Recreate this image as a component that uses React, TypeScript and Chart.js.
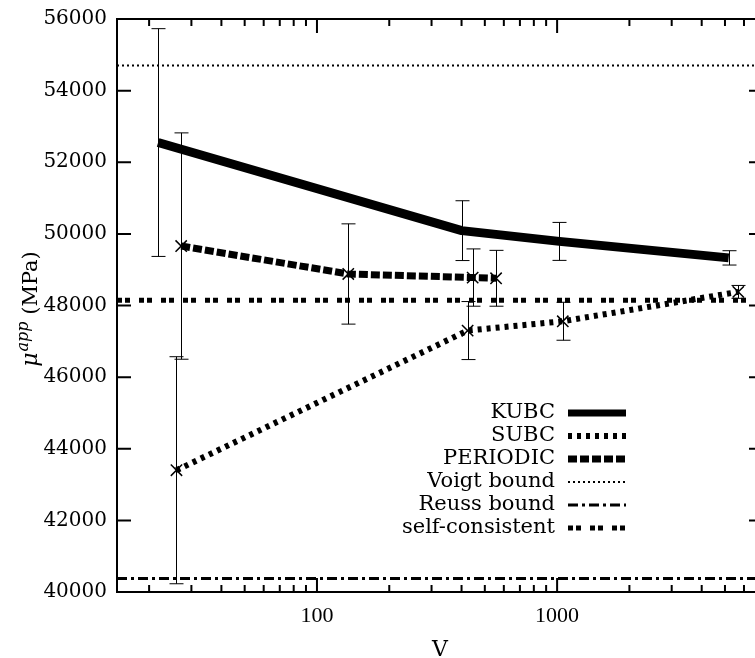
import { useEffect, useRef } from 'react';
import { Chart, registerables } from 'chart.js';
Chart.register(...registerables);

// ---- data ----
const kubcV = [21.8, 401, 1022, 5180];
const kubcMu = [52550, 50090, 49790, 49330];
const kubcErr = [3180, 835, 530, 200];

const subcV = [26.0, 424, 1056, 5680];
const subcMu = [43400, 47300, 47560, 48380];
const subcErr = [3170, 810, 530, 180];

const periodicV = [27.2, 135, 445, 557];
const periodicMu = [49660, 48880, 48780, 48760];
const periodicErr = [3160, 1400, 800, 780];

const voigtBound = 54700;
const reussBound = 40380;
const selfConsistent = 48150;

const xMin = 14.7;
const xMax = 7200;
const yMin = 40000;
const yMax = 56000;
const yStep = 2000;
const xTickLabels = [100, 1000];
const legendLabels = ['KUBC', 'SUBC', 'PERIODIC', 'Voigt bound', 'Reuss bound', 'self-consistent'];

const SERIF = '"Liberation Serif", "DejaVu Serif", serif';
const DSERIF = '"DejaVu Serif", serif';

const lineStyles = [
  { width: 9, dash: [] as number[] },
  { width: 6, dash: [4, 5] },
  { width: 7, dash: [9, 3] },
  { width: 2, dash: [2, 3] },
  { width: 3, dash: [10, 4, 3, 4] },
  { width: 5, dash: [5, 3, 5, 9] },
];

const pts = (xs: number[], ys: number[]) => xs.map((x, i) => ({ x, y: ys[i] }));
const hline = (y: number) => [{ x: xMin, y }, { x: xMax, y }];

const errSeries = [
  { v: kubcV, mu: kubcMu, err: kubcErr },
  { v: subcV, mu: subcMu, err: subcErr },
  { v: periodicV, mu: periodicMu, err: periodicErr },
];

const overlay = {
  id: 'overlay',
  afterDatasetsDraw(chart: any) {
    const ctx = chart.ctx;
    const a = chart.chartArea;
    const xs = chart.scales.x;
    const ys = chart.scales.y;
    ctx.save();
    ctx.strokeStyle = '#000';
    ctx.fillStyle = '#000';
    ctx.setLineDash([]);
    // error bars
    ctx.lineWidth = 1;
    errSeries.forEach((s) => {
      s.v.forEach((v, i) => {
        const px = Math.round(xs.getPixelForValue(v)) + 0.5;
        const t = ys.getPixelForValue(s.mu[i] + s.err[i]);
        const b = ys.getPixelForValue(s.mu[i] - s.err[i]);
        ctx.beginPath();
        ctx.moveTo(px, t);
        ctx.lineTo(px, b);
        ctx.moveTo(px - 7, t);
        ctx.lineTo(px + 7, t);
        ctx.moveTo(px - 7, b);
        ctx.lineTo(px + 7, b);
        ctx.stroke();
      });
    });
    // frame
    ctx.lineWidth = 2;
    ctx.strokeRect(a.left, a.top, a.right - a.left, a.bottom - a.top);
    // y ticks
    for (let v = yMin; v <= yMax; v += yStep) {
      const py = ys.getPixelForValue(v);
      ctx.beginPath();
      ctx.moveTo(a.left, py);
      ctx.lineTo(a.left + 14, py);
      ctx.moveTo(a.right, py);
      ctx.lineTo(a.right - 14, py);
      ctx.stroke();
    }
    // x ticks
    for (let d = 10; d <= 10000; d *= 10) {
      for (let k = 1; k <= 9; k++) {
        const v = d * k;
        if (v < xMin || v > xMax) continue;
        const px = xs.getPixelForValue(v);
        const len = k === 1 ? 14 : 7;
        ctx.beginPath();
        ctx.moveTo(px, a.bottom);
        ctx.lineTo(px, a.bottom - len);
        ctx.moveTo(px, a.top);
        ctx.lineTo(px, a.top + len);
        ctx.stroke();
      }
    }
    // legend
    ctx.font = `21px ${DSERIF}`;
    ctx.textAlign = 'right';
    ctx.textBaseline = 'middle';
    legendLabels.forEach((lab, i) => {
      const y = 413 + i * 23;
      ctx.fillText(lab, 555, y);
      const st = lineStyles[i];
      ctx.lineWidth = st.width === 9 ? 7 : st.width;
      ctx.setLineDash(st.dash);
      ctx.lineCap = 'butt';
      ctx.beginPath();
      ctx.moveTo(568, y);
      ctx.lineTo(626, y);
      ctx.stroke();
    });
    ctx.setLineDash([]);
    // x title
    ctx.font = `22px ${DSERIF}`;
    ctx.textAlign = 'center';
    ctx.textBaseline = 'alphabetic';
    ctx.fillText('V', (a.left + a.right) / 2, 656);
    // y title
    ctx.translate(37, (a.top + a.bottom) / 2 + 4);
    ctx.rotate(-Math.PI / 2);
    const f1 = `italic 22px ${DSERIF}`;
    const f2 = `italic 16px ${DSERIF}`;
    const f3 = `21px ${DSERIF}`;
    ctx.font = f1; const w1 = ctx.measureText('μ').width;
    ctx.font = f2; const w2 = ctx.measureText('app').width;
    ctx.font = f3; const w3 = ctx.measureText(' (MPa)').width;
    let x0 = -(w1 + w2 + w3) / 2;
    ctx.textAlign = 'left';
    ctx.font = f1; ctx.fillText('μ', x0, 0); x0 += w1 + 1;
    ctx.font = f2; ctx.fillText('app', x0, -9); x0 += w2;
    ctx.font = f3; ctx.fillText(' (MPa)', x0, 0);
    ctx.restore();
  },
};

export default function App() {
  const ref = useRef<HTMLCanvasElement>(null);
  useEffect(() => {
    if (!ref.current) return;
    const base = { borderColor: '#000', backgroundColor: '#000', fill: false, tension: 0, borderCapStyle: 'butt' };
    const chart = new Chart(ref.current, {
      type: 'line',
      data: {
        datasets: [
          { ...base, label: legendLabels[0], data: pts(kubcV, kubcMu), borderWidth: lineStyles[0].width, borderDash: lineStyles[0].dash, borderJoinStyle: 'round', pointRadius: 0 },
          { ...base, label: legendLabels[1], data: pts(subcV, subcMu), borderWidth: lineStyles[1].width, borderDash: lineStyles[1].dash, pointStyle: 'crossRot', pointRadius: 8, pointBorderWidth: 1.5, backgroundColor: 'transparent' },
          { ...base, label: legendLabels[2], data: pts(periodicV, periodicMu), borderWidth: lineStyles[2].width, borderDash: lineStyles[2].dash, pointStyle: 'crossRot', pointRadius: 8, pointBorderWidth: 1.5, backgroundColor: 'transparent' },
          { ...base, label: legendLabels[3], data: hline(voigtBound), borderWidth: lineStyles[3].width, borderDash: lineStyles[3].dash, pointRadius: 0 },
          { ...base, label: legendLabels[4], data: hline(reussBound), borderWidth: lineStyles[4].width, borderDash: lineStyles[4].dash, pointRadius: 0 },
          { ...base, label: legendLabels[5], data: hline(selfConsistent), borderWidth: lineStyles[5].width, borderDash: lineStyles[5].dash, pointRadius: 0 },
        ] as any,
      },
      options: {
        responsive: false,
        animation: false,
        layout: { padding: { top: 19, right: 12, left: 0, bottom: 0 } },
        plugins: { legend: { display: false }, tooltip: { enabled: false } },
        scales: {
          x: {
            type: 'logarithmic',
            min: xMin,
            max: xMax,
            afterBuildTicks: (s: any) => { s.ticks = xTickLabels.map((value) => ({ value })); },
            afterFit: (s: any) => { s.height = 66; },
            ticks: { callback: (v: any) => String(v), font: { family: SERIF, size: 22 }, color: '#000', padding: 3, maxRotation: 0, autoSkip: false },
            grid: { display: false },
            border: { display: false },
          },
          y: {
            type: 'linear',
            min: yMin,
            max: yMax,
            afterFit: (s: any) => { s.width = 117; },
            ticks: { stepSize: yStep, callback: (v: any) => String(v), font: { family: DSERIF, size: 20 }, color: '#000', padding: 2 },
            grid: { display: false },
            border: { display: false },
          },
        },
      } as any,
      plugins: [overlay],
    });
    return () => chart.destroy();
  }, []);
  return (
    <div style={{ position: 'fixed', left: 0, top: 0, width: 755, height: 658, overflow: 'hidden', background: '#fff' }}>
      <canvas ref={ref} width={775} height={658} style={{ display: 'block' }} />
    </div>
  );
}
